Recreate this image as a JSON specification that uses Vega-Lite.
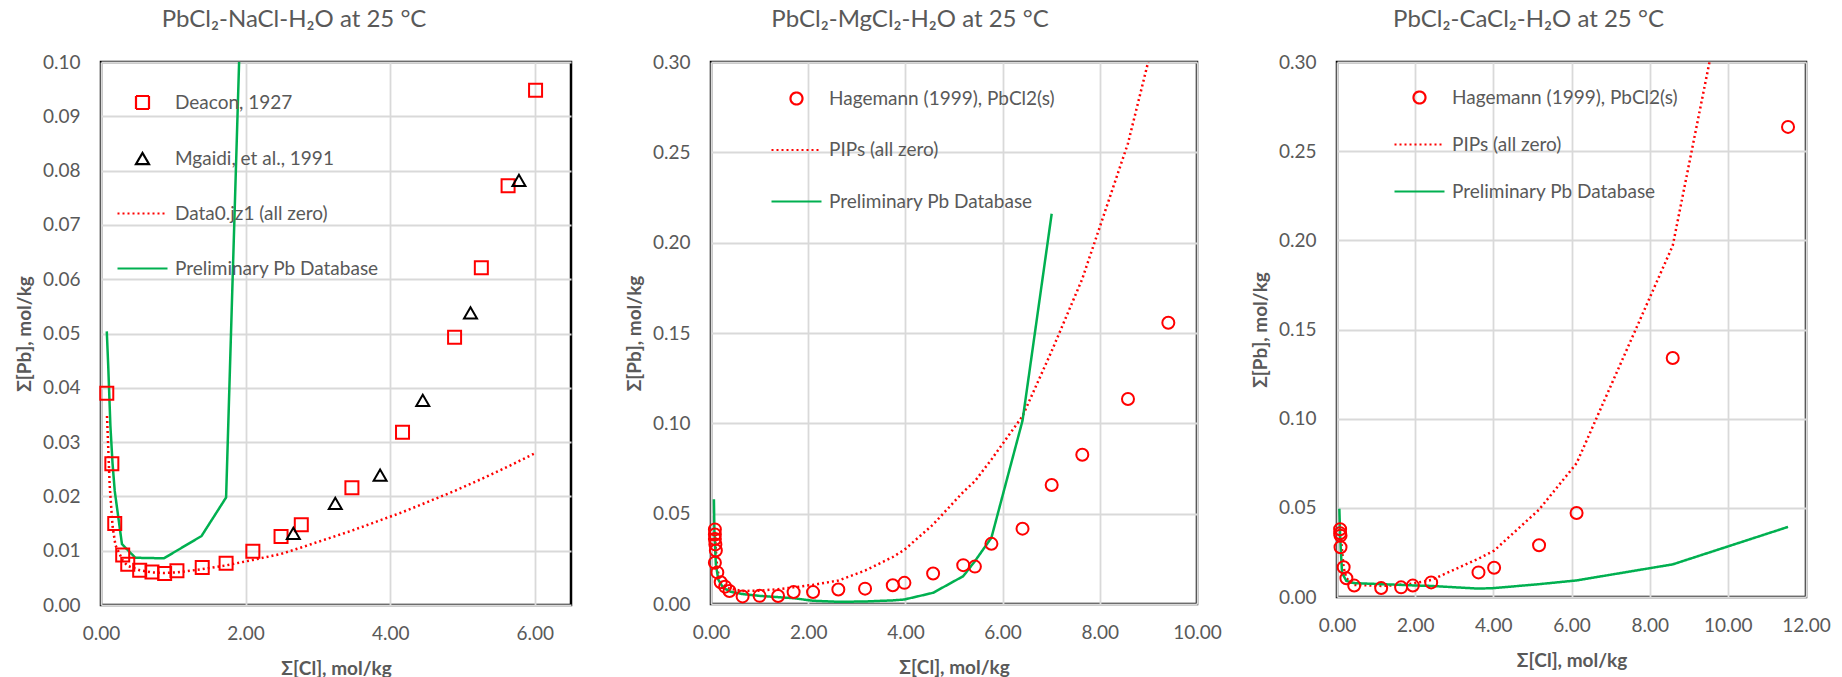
{
  "$schema": "https://vega.github.io/schema/vega-lite/v6.json",
  "padding": {"left": 14, "top": 6, "right": 5, "bottom": 0},
  "background": "white",
  "bounds": "flush",
  "spacing": 140,
  "resolve": {
    "scale": {"color": "independent", "shape": "independent", "strokeDash": "independent", "size": "independent"},
    "legend": {"color": "independent", "shape": "independent", "strokeDash": "independent", "size": "independent"}
  },
  "config": {
    "font": "Lato",
    "view": {"stroke": "#000000", "strokeWidth": 2.5},
    "axis": {"domain": false, "ticks": false, "tickSize": 0, "grid": true, "gridColor": "#d9d9d9", "gridWidth": 1.8,
      "labelFont": "Lato", "labelFontSize": 19, "labelColor": "#595959", "labelFlush": false, "labelOverlap": false,
      "titleFont": "Lato", "titleFontSize": 19, "titleFontWeight": "bold", "titleColor": "#595959"},
    "axisX": {"labelPadding": 19, "titlePadding": 16},
    "axisY": {"labelPadding": 21, "titlePadding": 8},
    "title": {"font": "Lato", "fontSize": 24, "fontWeight": "normal", "color": "#595959", "anchor": "middle", "offset": 21},
    "legend": {"orient": "none", "title": null, "labelFont": "Lato", "labelFontSize": 19, "labelColor": "#595959", "labelOffset": 6, "labelLimit": 500, "padding": 0, "symbolStrokeWidth": 2.2, "symbolSize": 2500}
  },
  "datasets": {
    "nacl": [
      {"s": "Deacon, 1927", "k": "pt", "x": 0.08, "y": 0.039},
      {"s": "Deacon, 1927", "k": "pt", "x": 0.15, "y": 0.026},
      {"s": "Deacon, 1927", "k": "pt", "x": 0.19, "y": 0.015},
      {"s": "Deacon, 1927", "k": "pt", "x": 0.30, "y": 0.0092},
      {"s": "Deacon, 1927", "k": "pt", "x": 0.37, "y": 0.0075},
      {"s": "Deacon, 1927", "k": "pt", "x": 0.535, "y": 0.0064},
      {"s": "Deacon, 1927", "k": "pt", "x": 0.705, "y": 0.0061},
      {"s": "Deacon, 1927", "k": "pt", "x": 0.88, "y": 0.0058},
      {"s": "Deacon, 1927", "k": "pt", "x": 1.05, "y": 0.0063},
      {"s": "Deacon, 1927", "k": "pt", "x": 1.40, "y": 0.0069},
      {"s": "Deacon, 1927", "k": "pt", "x": 1.73, "y": 0.0077},
      {"s": "Deacon, 1927", "k": "pt", "x": 2.10, "y": 0.0099},
      {"s": "Deacon, 1927", "k": "pt", "x": 2.49, "y": 0.0126},
      {"s": "Deacon, 1927", "k": "pt", "x": 2.77, "y": 0.0148},
      {"s": "Deacon, 1927", "k": "pt", "x": 3.47, "y": 0.0216},
      {"s": "Deacon, 1927", "k": "pt", "x": 4.17, "y": 0.0318},
      {"s": "Deacon, 1927", "k": "pt", "x": 4.89, "y": 0.0493},
      {"s": "Deacon, 1927", "k": "pt", "x": 5.26, "y": 0.0621},
      {"s": "Deacon, 1927", "k": "pt", "x": 5.63, "y": 0.0772},
      {"s": "Deacon, 1927", "k": "pt", "x": 6.01, "y": 0.0948},
      {"s": "Mgaidi, et al., 1991", "k": "pt", "x": 2.66, "y": 0.0132},
      {"s": "Mgaidi, et al., 1991", "k": "pt", "x": 3.24, "y": 0.0187},
      {"s": "Mgaidi, et al., 1991", "k": "pt", "x": 3.86, "y": 0.0239},
      {"s": "Mgaidi, et al., 1991", "k": "pt", "x": 4.45, "y": 0.0377},
      {"s": "Mgaidi, et al., 1991", "k": "pt", "x": 5.11, "y": 0.0538},
      {"s": "Mgaidi, et al., 1991", "k": "pt", "x": 5.78, "y": 0.0782},
      {"s": "Data0.jz1 (all zero)", "k": "ln", "x": 0.083, "y": 0.0348},
      {"s": "Data0.jz1 (all zero)", "k": "ln", "x": 0.12, "y": 0.022},
      {"s": "Data0.jz1 (all zero)", "k": "ln", "x": 0.16, "y": 0.0145},
      {"s": "Data0.jz1 (all zero)", "k": "ln", "x": 0.2, "y": 0.011},
      {"s": "Data0.jz1 (all zero)", "k": "ln", "x": 0.3, "y": 0.0082},
      {"s": "Data0.jz1 (all zero)", "k": "ln", "x": 0.37, "y": 0.0072},
      {"s": "Data0.jz1 (all zero)", "k": "ln", "x": 0.535, "y": 0.0064},
      {"s": "Data0.jz1 (all zero)", "k": "ln", "x": 0.705, "y": 0.006},
      {"s": "Data0.jz1 (all zero)", "k": "ln", "x": 0.88, "y": 0.0059},
      {"s": "Data0.jz1 (all zero)", "k": "ln", "x": 1.05, "y": 0.006},
      {"s": "Data0.jz1 (all zero)", "k": "ln", "x": 1.40, "y": 0.0066},
      {"s": "Data0.jz1 (all zero)", "k": "ln", "x": 1.73, "y": 0.0073},
      {"s": "Data0.jz1 (all zero)", "k": "ln", "x": 2.10, "y": 0.0083},
      {"s": "Data0.jz1 (all zero)", "k": "ln", "x": 2.49, "y": 0.0094},
      {"s": "Data0.jz1 (all zero)", "k": "ln", "x": 2.77, "y": 0.0106},
      {"s": "Data0.jz1 (all zero)", "k": "ln", "x": 3.47, "y": 0.0137},
      {"s": "Data0.jz1 (all zero)", "k": "ln", "x": 4.17, "y": 0.0171},
      {"s": "Data0.jz1 (all zero)", "k": "ln", "x": 4.89, "y": 0.021},
      {"s": "Data0.jz1 (all zero)", "k": "ln", "x": 5.26, "y": 0.0232},
      {"s": "Data0.jz1 (all zero)", "k": "ln", "x": 5.63, "y": 0.0255},
      {"s": "Data0.jz1 (all zero)", "k": "ln", "x": 6.01, "y": 0.028},
      {"s": "Preliminary Pb Database", "k": "ln", "x": 0.08, "y": 0.0504},
      {"s": "Preliminary Pb Database", "k": "ln", "x": 0.10, "y": 0.044},
      {"s": "Preliminary Pb Database", "k": "ln", "x": 0.13, "y": 0.033},
      {"s": "Preliminary Pb Database", "k": "ln", "x": 0.16, "y": 0.026},
      {"s": "Preliminary Pb Database", "k": "ln", "x": 0.19, "y": 0.021},
      {"s": "Preliminary Pb Database", "k": "ln", "x": 0.29, "y": 0.0112},
      {"s": "Preliminary Pb Database", "k": "ln", "x": 0.475, "y": 0.0087},
      {"s": "Preliminary Pb Database", "k": "ln", "x": 0.87, "y": 0.0086},
      {"s": "Preliminary Pb Database", "k": "ln", "x": 1.39, "y": 0.0127},
      {"s": "Preliminary Pb Database", "k": "ln", "x": 1.73, "y": 0.0198},
      {"s": "Preliminary Pb Database", "k": "ln", "x": 1.91, "y": 0.10}
    ],
    "mgcl": [
      {"s": "Hagemann (1999), PbCl2(s)", "k": "pt", "x": 0.08, "y": 0.0413},
      {"s": "Hagemann (1999), PbCl2(s)", "k": "pt", "x": 0.08, "y": 0.0385},
      {"s": "Hagemann (1999), PbCl2(s)", "k": "pt", "x": 0.08, "y": 0.036},
      {"s": "Hagemann (1999), PbCl2(s)", "k": "pt", "x": 0.09, "y": 0.033},
      {"s": "Hagemann (1999), PbCl2(s)", "k": "pt", "x": 0.10, "y": 0.0296},
      {"s": "Hagemann (1999), PbCl2(s)", "k": "pt", "x": 0.08, "y": 0.0228},
      {"s": "Hagemann (1999), PbCl2(s)", "k": "pt", "x": 0.13, "y": 0.0175},
      {"s": "Hagemann (1999), PbCl2(s)", "k": "pt", "x": 0.20, "y": 0.012},
      {"s": "Hagemann (1999), PbCl2(s)", "k": "pt", "x": 0.29, "y": 0.0096},
      {"s": "Hagemann (1999), PbCl2(s)", "k": "pt", "x": 0.38, "y": 0.0072},
      {"s": "Hagemann (1999), PbCl2(s)", "k": "pt", "x": 0.65, "y": 0.0042},
      {"s": "Hagemann (1999), PbCl2(s)", "k": "pt", "x": 1.0, "y": 0.0045},
      {"s": "Hagemann (1999), PbCl2(s)", "k": "pt", "x": 1.38, "y": 0.0044},
      {"s": "Hagemann (1999), PbCl2(s)", "k": "pt", "x": 1.7, "y": 0.0066},
      {"s": "Hagemann (1999), PbCl2(s)", "k": "pt", "x": 2.1, "y": 0.0066},
      {"s": "Hagemann (1999), PbCl2(s)", "k": "pt", "x": 2.62, "y": 0.008},
      {"s": "Hagemann (1999), PbCl2(s)", "k": "pt", "x": 3.17, "y": 0.0085},
      {"s": "Hagemann (1999), PbCl2(s)", "k": "pt", "x": 3.74, "y": 0.0104},
      {"s": "Hagemann (1999), PbCl2(s)", "k": "pt", "x": 3.98, "y": 0.0117},
      {"s": "Hagemann (1999), PbCl2(s)", "k": "pt", "x": 4.57, "y": 0.0169},
      {"s": "Hagemann (1999), PbCl2(s)", "k": "pt", "x": 5.19, "y": 0.0215},
      {"s": "Hagemann (1999), PbCl2(s)", "k": "pt", "x": 5.43, "y": 0.0207},
      {"s": "Hagemann (1999), PbCl2(s)", "k": "pt", "x": 5.77, "y": 0.0333},
      {"s": "Hagemann (1999), PbCl2(s)", "k": "pt", "x": 6.41, "y": 0.0417},
      {"s": "Hagemann (1999), PbCl2(s)", "k": "pt", "x": 7.01, "y": 0.0659},
      {"s": "Hagemann (1999), PbCl2(s)", "k": "pt", "x": 7.64, "y": 0.0826},
      {"s": "Hagemann (1999), PbCl2(s)", "k": "pt", "x": 8.58, "y": 0.1135},
      {"s": "Hagemann (1999), PbCl2(s)", "k": "pt", "x": 9.41, "y": 0.1557},
      {"s": "PIPs (all zero)", "k": "ln", "x": 0.08, "y": 0.04},
      {"s": "PIPs (all zero)", "k": "ln", "x": 0.1, "y": 0.03},
      {"s": "PIPs (all zero)", "k": "ln", "x": 0.13, "y": 0.019},
      {"s": "PIPs (all zero)", "k": "ln", "x": 0.2, "y": 0.0125},
      {"s": "PIPs (all zero)", "k": "ln", "x": 0.29, "y": 0.0098},
      {"s": "PIPs (all zero)", "k": "ln", "x": 0.38, "y": 0.0085},
      {"s": "PIPs (all zero)", "k": "ln", "x": 0.65, "y": 0.0072},
      {"s": "PIPs (all zero)", "k": "ln", "x": 1.0, "y": 0.0074},
      {"s": "PIPs (all zero)", "k": "ln", "x": 1.38, "y": 0.0082},
      {"s": "PIPs (all zero)", "k": "ln", "x": 1.7, "y": 0.0092},
      {"s": "PIPs (all zero)", "k": "ln", "x": 2.1, "y": 0.0106},
      {"s": "PIPs (all zero)", "k": "ln", "x": 2.62, "y": 0.013},
      {"s": "PIPs (all zero)", "k": "ln", "x": 3.17, "y": 0.0185},
      {"s": "PIPs (all zero)", "k": "ln", "x": 3.74, "y": 0.026},
      {"s": "PIPs (all zero)", "k": "ln", "x": 3.98, "y": 0.030},
      {"s": "PIPs (all zero)", "k": "ln", "x": 4.57, "y": 0.044},
      {"s": "PIPs (all zero)", "k": "ln", "x": 5.19, "y": 0.062},
      {"s": "PIPs (all zero)", "k": "ln", "x": 5.43, "y": 0.068},
      {"s": "PIPs (all zero)", "k": "ln", "x": 5.77, "y": 0.08},
      {"s": "PIPs (all zero)", "k": "ln", "x": 6.41, "y": 0.104},
      {"s": "PIPs (all zero)", "k": "ln", "x": 7.01, "y": 0.14},
      {"s": "PIPs (all zero)", "k": "ln", "x": 7.64, "y": 0.18},
      {"s": "PIPs (all zero)", "k": "ln", "x": 8.58, "y": 0.255},
      {"s": "PIPs (all zero)", "k": "ln", "x": 9.41, "y": 0.345},
      {"s": "Preliminary Pb Database", "k": "ln", "x": 0.06, "y": 0.058},
      {"s": "Preliminary Pb Database", "k": "ln", "x": 0.07, "y": 0.04},
      {"s": "Preliminary Pb Database", "k": "ln", "x": 0.1, "y": 0.022},
      {"s": "Preliminary Pb Database", "k": "ln", "x": 0.15, "y": 0.0135},
      {"s": "Preliminary Pb Database", "k": "ln", "x": 0.25, "y": 0.009},
      {"s": "Preliminary Pb Database", "k": "ln", "x": 0.4, "y": 0.0068},
      {"s": "Preliminary Pb Database", "k": "ln", "x": 0.65, "y": 0.0055},
      {"s": "Preliminary Pb Database", "k": "ln", "x": 1.0, "y": 0.0045},
      {"s": "Preliminary Pb Database", "k": "ln", "x": 1.38, "y": 0.0038},
      {"s": "Preliminary Pb Database", "k": "ln", "x": 1.7, "y": 0.0032},
      {"s": "Preliminary Pb Database", "k": "ln", "x": 2.1, "y": 0.0018},
      {"s": "Preliminary Pb Database", "k": "ln", "x": 2.62, "y": 0.0012},
      {"s": "Preliminary Pb Database", "k": "ln", "x": 3.17, "y": 0.0014},
      {"s": "Preliminary Pb Database", "k": "ln", "x": 3.74, "y": 0.002},
      {"s": "Preliminary Pb Database", "k": "ln", "x": 3.98, "y": 0.0025},
      {"s": "Preliminary Pb Database", "k": "ln", "x": 4.57, "y": 0.0062},
      {"s": "Preliminary Pb Database", "k": "ln", "x": 5.19, "y": 0.0154},
      {"s": "Preliminary Pb Database", "k": "ln", "x": 5.43, "y": 0.0237},
      {"s": "Preliminary Pb Database", "k": "ln", "x": 5.77, "y": 0.0367},
      {"s": "Preliminary Pb Database", "k": "ln", "x": 6.41, "y": 0.1015},
      {"s": "Preliminary Pb Database", "k": "ln", "x": 7.01, "y": 0.216}
    ],
    "cacl": [
      {"s": "Hagemann (1999), PbCl2(s)", "k": "pt", "x": 0.08, "y": 0.038},
      {"s": "Hagemann (1999), PbCl2(s)", "k": "pt", "x": 0.08, "y": 0.0357},
      {"s": "Hagemann (1999), PbCl2(s)", "k": "pt", "x": 0.09, "y": 0.0344},
      {"s": "Hagemann (1999), PbCl2(s)", "k": "pt", "x": 0.09, "y": 0.0279},
      {"s": "Hagemann (1999), PbCl2(s)", "k": "pt", "x": 0.17, "y": 0.0167},
      {"s": "Hagemann (1999), PbCl2(s)", "k": "pt", "x": 0.24, "y": 0.0105},
      {"s": "Hagemann (1999), PbCl2(s)", "k": "pt", "x": 0.44, "y": 0.0064},
      {"s": "Hagemann (1999), PbCl2(s)", "k": "pt", "x": 1.13, "y": 0.005},
      {"s": "Hagemann (1999), PbCl2(s)", "k": "pt", "x": 1.64, "y": 0.0054},
      {"s": "Hagemann (1999), PbCl2(s)", "k": "pt", "x": 1.94, "y": 0.0064},
      {"s": "Hagemann (1999), PbCl2(s)", "k": "pt", "x": 2.41, "y": 0.0082},
      {"s": "Hagemann (1999), PbCl2(s)", "k": "pt", "x": 3.62, "y": 0.0138},
      {"s": "Hagemann (1999), PbCl2(s)", "k": "pt", "x": 4.02, "y": 0.0164},
      {"s": "Hagemann (1999), PbCl2(s)", "k": "pt", "x": 5.17, "y": 0.029},
      {"s": "Hagemann (1999), PbCl2(s)", "k": "pt", "x": 6.13, "y": 0.0471},
      {"s": "Hagemann (1999), PbCl2(s)", "k": "pt", "x": 8.59, "y": 0.134},
      {"s": "Hagemann (1999), PbCl2(s)", "k": "pt", "x": 11.54, "y": 0.2636},
      {"s": "PIPs (all zero)", "k": "ln", "x": 0.08, "y": 0.038},
      {"s": "PIPs (all zero)", "k": "ln", "x": 0.17, "y": 0.0165},
      {"s": "PIPs (all zero)", "k": "ln", "x": 0.24, "y": 0.0105},
      {"s": "PIPs (all zero)", "k": "ln", "x": 0.44, "y": 0.0068},
      {"s": "PIPs (all zero)", "k": "ln", "x": 1.13, "y": 0.0062},
      {"s": "PIPs (all zero)", "k": "ln", "x": 1.64, "y": 0.0068},
      {"s": "PIPs (all zero)", "k": "ln", "x": 1.94, "y": 0.0076},
      {"s": "PIPs (all zero)", "k": "ln", "x": 2.41, "y": 0.0095},
      {"s": "PIPs (all zero)", "k": "ln", "x": 3.62, "y": 0.0215},
      {"s": "PIPs (all zero)", "k": "ln", "x": 4.02, "y": 0.026},
      {"s": "PIPs (all zero)", "k": "ln", "x": 5.17, "y": 0.049},
      {"s": "PIPs (all zero)", "k": "ln", "x": 6.13, "y": 0.075},
      {"s": "PIPs (all zero)", "k": "ln", "x": 8.59, "y": 0.197},
      {"s": "PIPs (all zero)", "k": "ln", "x": 11.54, "y": 0.52},
      {"s": "Preliminary Pb Database", "k": "ln", "x": 0.06, "y": 0.0495},
      {"s": "Preliminary Pb Database", "k": "ln", "x": 0.08, "y": 0.035},
      {"s": "Preliminary Pb Database", "k": "ln", "x": 0.1, "y": 0.025},
      {"s": "Preliminary Pb Database", "k": "ln", "x": 0.13, "y": 0.0135},
      {"s": "Preliminary Pb Database", "k": "ln", "x": 0.24, "y": 0.009},
      {"s": "Preliminary Pb Database", "k": "ln", "x": 0.44, "y": 0.0078},
      {"s": "Preliminary Pb Database", "k": "ln", "x": 1.13, "y": 0.0072},
      {"s": "Preliminary Pb Database", "k": "ln", "x": 1.64, "y": 0.0068},
      {"s": "Preliminary Pb Database", "k": "ln", "x": 1.94, "y": 0.0065},
      {"s": "Preliminary Pb Database", "k": "ln", "x": 2.41, "y": 0.0062},
      {"s": "Preliminary Pb Database", "k": "ln", "x": 3.62, "y": 0.0047},
      {"s": "Preliminary Pb Database", "k": "ln", "x": 4.02, "y": 0.005},
      {"s": "Preliminary Pb Database", "k": "ln", "x": 5.17, "y": 0.0072},
      {"s": "Preliminary Pb Database", "k": "ln", "x": 6.13, "y": 0.0093},
      {"s": "Preliminary Pb Database", "k": "ln", "x": 8.59, "y": 0.0183},
      {"s": "Preliminary Pb Database", "k": "ln", "x": 11.54, "y": 0.0393}
    ]
  },
  "hconcat": [
    {
      "width": 470, "height": 543,
      "title": {"text": "PbCl₂-NaCl-H₂O at 25 °C", "dx": -42},
      "data": {"name": "nacl"},
      "encoding": {
        "x": {"field": "x", "type": "quantitative", "title": "Σ[Cl], mol/kg", "scale": {"domain": [0, 6.5], "nice": false}, "axis": {"values": [0, 2, 4, 6], "format": ".2f"}},
        "y": {"field": "y", "type": "quantitative", "title": "Σ[Pb], mol/kg", "scale": {"domain": [0, 0.1], "nice": false}, "axis": {"values": [0, 0.01, 0.02, 0.03, 0.04, 0.05, 0.06, 0.07, 0.08, 0.09, 0.1], "format": ".2f"}}
      },
      "layer": [
        {
          "transform": [{"filter": "datum.k == 'ln'"}],
          "mark": {"type": "line", "clip": true, "strokeWidth": 2.5},
          "encoding": {
            "color": {"field": "s", "type": "nominal", "scale": {"domain": ["Deacon, 1927", "Mgaidi, et al., 1991", "Data0.jz1 (all zero)", "Preliminary Pb Database"], "range": ["#ff0000", "#000000", "#ff0000", "#00b050"]}, "legend": {"legendX": 15, "legendY": 14, "rowPadding": 18}},
            "strokeDash": {"field": "s", "type": "nominal", "scale": {"domain": ["Deacon, 1927", "Mgaidi, et al., 1991", "Data0.jz1 (all zero)", "Preliminary Pb Database"], "range": [[1, 0], [1, 0], [2, 3], [1, 0]]}, "legend": {"legendX": 15, "legendY": 14, "rowPadding": 18}}
          }
        },
        {
          "transform": [{"filter": "datum.k == 'pt'"}],
          "mark": {"type": "point", "filled": false, "strokeWidth": 2, "opacity": 1, "size": 2500},
          "encoding": {
            "color": {"field": "s", "type": "nominal", "scale": {"domain": ["Deacon, 1927", "Mgaidi, et al., 1991", "Data0.jz1 (all zero)", "Preliminary Pb Database"], "range": ["#ff0000", "#000000", "#ff0000", "#00b050"]}, "legend": {"legendX": 15, "legendY": 14, "rowPadding": 18}},
            "shape": {"field": "s", "type": "nominal", "scale": {"domain": ["Deacon, 1927", "Mgaidi, et al., 1991", "Data0.jz1 (all zero)", "Preliminary Pb Database"], "range": ["M-0.26,-0.26L0.26,-0.26L0.26,0.26L-0.26,0.26Z", "M0,-0.225L0.26,0.225L-0.26,0.225Z", "stroke", "stroke"]}, "legend": {"legendX": 15, "legendY": 14, "rowPadding": 18}}
          }
        }
      ]
    },
    {
      "width": 486, "height": 542,
      "title": {"text": "PbCl₂-MgCl₂-H₂O at 25 °C", "dx": -44},
      "data": {"name": "mgcl"},
      "encoding": {
        "x": {"field": "x", "type": "quantitative", "title": "Σ[Cl], mol/kg", "scale": {"domain": [0, 10], "nice": false}, "axis": {"values": [0, 2, 4, 6, 8, 10], "format": ".2f"}},
        "y": {"field": "y", "type": "quantitative", "title": "Σ[Pb], mol/kg", "scale": {"domain": [0, 0.3], "nice": false}, "axis": {"values": [0, 0.05, 0.1, 0.15, 0.2, 0.25, 0.3], "format": ".2f"}}
      },
      "layer": [
        {
          "transform": [{"filter": "datum.k == 'ln'"}],
          "mark": {"type": "line", "clip": true, "strokeWidth": 2.5},
          "encoding": {
            "color": {"field": "s", "type": "nominal", "scale": {"domain": ["Hagemann (1999), PbCl2(s)", "PIPs (all zero)", "Preliminary Pb Database"], "range": ["#ff0000", "#ff0000", "#00b050"]}, "legend": {"legendX": 59, "legendY": 10, "rowPadding": 14.5}},
            "strokeDash": {"field": "s", "type": "nominal", "scale": {"domain": ["Hagemann (1999), PbCl2(s)", "PIPs (all zero)", "Preliminary Pb Database"], "range": [[1, 0], [2, 3], [1, 0]]}, "legend": {"legendX": 59, "legendY": 10, "rowPadding": 14.5}}
          }
        },
        {
          "transform": [{"filter": "datum.k == 'pt'"}],
          "mark": {"type": "point", "filled": false, "strokeWidth": 2, "opacity": 1, "size": 2500},
          "encoding": {
            "color": {"field": "s", "type": "nominal", "scale": {"domain": ["Hagemann (1999), PbCl2(s)", "PIPs (all zero)", "Preliminary Pb Database"], "range": ["#ff0000", "#ff0000", "#00b050"]}, "legend": {"legendX": 59, "legendY": 10, "rowPadding": 14.5}},
            "shape": {"field": "s", "type": "nominal", "scale": {"domain": ["Hagemann (1999), PbCl2(s)", "PIPs (all zero)", "Preliminary Pb Database"], "range": ["M0.24,0A0.24,0.24,0,1,1,-0.24,0A0.24,0.24,0,1,1,0.24,0Z", "stroke", "stroke"]}, "legend": {"legendX": 59, "legendY": 10, "rowPadding": 14.5}}
          }
        }
      ]
    },
    {
      "width": 469, "height": 535,
      "title": {"text": "PbCl₂-CaCl₂-H₂O at 25 °C", "dx": -43},
      "data": {"name": "cacl"},
      "encoding": {
        "x": {"field": "x", "type": "quantitative", "title": "Σ[Cl], mol/kg", "scale": {"domain": [0, 12], "nice": false}, "axis": {"values": [0, 2, 4, 6, 8, 10, 12], "format": ".2f"}},
        "y": {"field": "y", "type": "quantitative", "title": "Σ[Pb], mol/kg", "scale": {"domain": [0, 0.3], "nice": false}, "axis": {"values": [0, 0.05, 0.1, 0.15, 0.2, 0.25, 0.3], "format": ".2f"}}
      },
      "layer": [
        {
          "transform": [{"filter": "datum.k == 'ln'"}],
          "mark": {"type": "line", "clip": true, "strokeWidth": 2.5},
          "encoding": {
            "color": {"field": "s", "type": "nominal", "scale": {"domain": ["Hagemann (1999), PbCl2(s)", "PIPs (all zero)", "Preliminary Pb Database"], "range": ["#ff0000", "#ff0000", "#00b050"]}, "legend": {"legendX": 56, "legendY": 9, "rowPadding": 10}},
            "strokeDash": {"field": "s", "type": "nominal", "scale": {"domain": ["Hagemann (1999), PbCl2(s)", "PIPs (all zero)", "Preliminary Pb Database"], "range": [[1, 0], [2, 3], [1, 0]]}, "legend": {"legendX": 56, "legendY": 9, "rowPadding": 10}}
          }
        },
        {
          "transform": [{"filter": "datum.k == 'pt'"}],
          "mark": {"type": "point", "filled": false, "strokeWidth": 2, "opacity": 1, "size": 2500},
          "encoding": {
            "color": {"field": "s", "type": "nominal", "scale": {"domain": ["Hagemann (1999), PbCl2(s)", "PIPs (all zero)", "Preliminary Pb Database"], "range": ["#ff0000", "#ff0000", "#00b050"]}, "legend": {"legendX": 56, "legendY": 9, "rowPadding": 10}},
            "shape": {"field": "s", "type": "nominal", "scale": {"domain": ["Hagemann (1999), PbCl2(s)", "PIPs (all zero)", "Preliminary Pb Database"], "range": ["M0.24,0A0.24,0.24,0,1,1,-0.24,0A0.24,0.24,0,1,1,0.24,0Z", "stroke", "stroke"]}, "legend": {"legendX": 56, "legendY": 9, "rowPadding": 10}}
          }
        }
      ]
    }
  ]
}
